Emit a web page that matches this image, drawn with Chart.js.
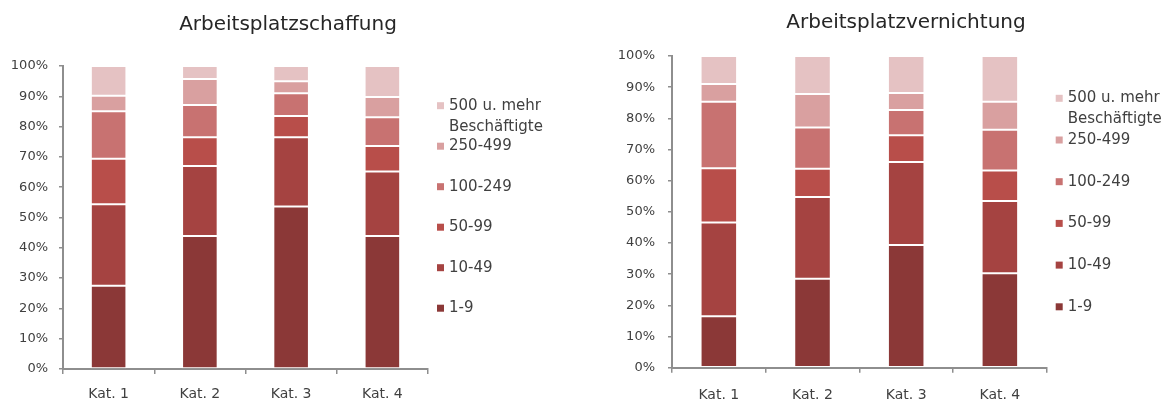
<!DOCTYPE html>
<html>
<head>
<meta charset="utf-8">
<script src="https://cdn.jsdelivr.net/npm/chart.js@4/dist/chart.umd.min.js"></script>
<style>
  html, body { margin: 0; padding: 0; background: #ffffff; overflow: hidden; }
  #wrap { position: relative; width: 1169px; height: 401px; }
  #c1 { position: absolute; left: 0; top: 0; }
  #c2 { position: absolute; left: 580px; top: 0; }
</style>
</head>
<body>
<div id="wrap">
  <canvas id="c1" width="580" height="401"></canvas>
  <canvas id="c2" width="589" height="401"></canvas>
</div>
<script>
// ---- Data ----
const categories = ['Kat. 1', 'Kat. 2', 'Kat. 3', 'Kat. 4'];
const seriesLabels = ['1-9', '10-49', '50-99', '100-249', '250-499', '500 u. mehr\nBeschäftigte'];
const yTickValues = [0, 10, 20, 30, 40, 50, 60, 70, 80, 90, 100];

const titleSchaffung = 'Arbeitsplatzschaffung';
const titleVernichtung = 'Arbeitsplatzvernichtung';

// Arbeitsplatzschaffung (% share)
const schaffung_1_9     = [27.5, 43.9, 53.6, 43.9];
const schaffung_10_49   = [26.9, 23.1, 22.9, 21.3];
const schaffung_50_99   = [15.0,  9.5,  7.0,  8.4];
const schaffung_100_249 = [15.7, 10.6,  7.5,  9.5];
const schaffung_250_499 = [ 5.1,  8.6,  4.0,  6.7];
const schaffung_500     = [ 9.8,  4.3,  5.0, 10.2];

// Arbeitsplatzvernichtung (% share)
const vernichtung_1_9     = [16.5, 28.5, 39.4, 30.3];
const vernichtung_10_49   = [30.1, 26.3, 26.6, 23.2];
const vernichtung_50_99   = [17.4,  9.0,  8.6,  9.8];
const vernichtung_100_249 = [21.3, 13.3,  8.1, 13.0];
const vernichtung_250_499 = [ 5.7, 10.7,  5.4,  9.0];
const vernichtung_500     = [ 9.0, 12.2, 11.9, 14.7];

// ---- Styles ----
const colors = ['#8b3837', '#a54341', '#b84e4a', '#c87271', '#d9a0a0', '#e5c2c3'];
const FONT = "'DejaVu Sans', sans-serif";
const TEXT = '#404040';
const AXIS = '#8e8e8e';

function makeDatasets(series) {
  return series.map((vals, i) => ({
    label: seriesLabels[i],
    data: vals,
    backgroundColor: colors[i],
    borderColor: 'rgba(255,255,255,0.95)',
    borderWidth: 1,
    borderSkipped: false,
    categoryPercentage: 1.0,
    barPercentage: 0.39
  }));
}

const decorPlugin = {
  id: 'decor',
  afterDraw(chart) {
    const o = chart.options.plugins.decor;
    const ctx = chart.ctx;
    const ca = chart.chartArea;
    ctx.save();
    // title
    ctx.font = '20px ' + FONT;
    ctx.fillStyle = '#262626';
    ctx.textAlign = 'center';
    ctx.textBaseline = 'middle';
    ctx.fillText(o.title, o.titleX, o.titleY);
    // legend (reverse order, like the stack)
    ctx.font = '15px ' + FONT;
    ctx.textAlign = 'left';
    const ds = chart.data.datasets;
    const n = ds.length;
    for (let k = 0; k < n; k++) {
      const idx = n - 1 - k;
      const y = o.legFirst + k * o.legStep;
      const sx = ca.right + o.legOffset;
      ctx.fillStyle = ds[idx].backgroundColor;
      ctx.fillRect(sx, y - 3.5, 7, 7);
      ctx.fillStyle = TEXT;
      const lines = ds[idx].label.split('\n');
      lines.forEach((ln, j) => ctx.fillText(ln, sx + 12, y + j * 21));
    }
    ctx.restore();
  }
};

function makeChart(id, series, cfg) {
  return new Chart(document.getElementById(id), {
    type: 'bar',
    data: { labels: categories, datasets: makeDatasets(series) },
    plugins: [decorPlugin],
    options: {
      responsive: false,
      animation: false,
      devicePixelRatio: 1,
      layout: { padding: { top: cfg.top, right: cfg.right, left: 0, bottom: 0 } },
      plugins: {
        legend: { display: false },
        title: { display: false },
        tooltip: { enabled: false },
        decor: cfg.decor
      },
      scales: {
        x: {
          stacked: true,
          afterFit: s => { s.height = cfg.xHeight; },
          grid: { offset: true, drawOnChartArea: false, drawTicks: true, tickLength: 5, color: AXIS, lineWidth: 1.5 },
          border: { display: true, color: AXIS, width: 2 },
          ticks: { color: TEXT, font: { family: FONT, size: 14 }, padding: cfg.xPad }
        },
        y: {
          stacked: true,
          min: 0, max: 100,
          afterFit: s => { s.width = cfg.yWidth; },
          afterBuildTicks: s => { s.ticks = yTickValues.map(v => ({ value: v })); },
          grid: { drawOnChartArea: false, drawTicks: true, tickLength: 4, color: AXIS, lineWidth: 1.5 },
          border: { display: true, color: AXIS, width: 2 },
          ticks: { color: TEXT, font: { family: FONT, size: 13 }, padding: cfg.yPad, callback: v => v + '%' }
        }
      }
    }
  });
}

makeChart('c1',
  [schaffung_1_9, schaffung_10_49, schaffung_50_99, schaffung_100_249, schaffung_250_499, schaffung_500],
  { top: 66, right: 152, xHeight: 32, yWidth: 63, xPad: 12, yPad: 11,
    decor: { title: titleSchaffung, titleX: 288, titleY: 25, legOffset: 9, legFirst: 105.7, legStep: 40.5 } });

makeChart('c2',
  [vernichtung_1_9, vernichtung_10_49, vernichtung_50_99, vernichtung_100_249, vernichtung_250_499, vernichtung_500],
  { top: 56, right: 122.3, xHeight: 33.3, yWidth: 92, xPad: 14, yPad: 13,
    decor: { title: titleVernichtung, titleX: 326, titleY: 23, legOffset: 9, legFirst: 98.3, legStep: 41.7 } });
</script>
</body>
</html>
